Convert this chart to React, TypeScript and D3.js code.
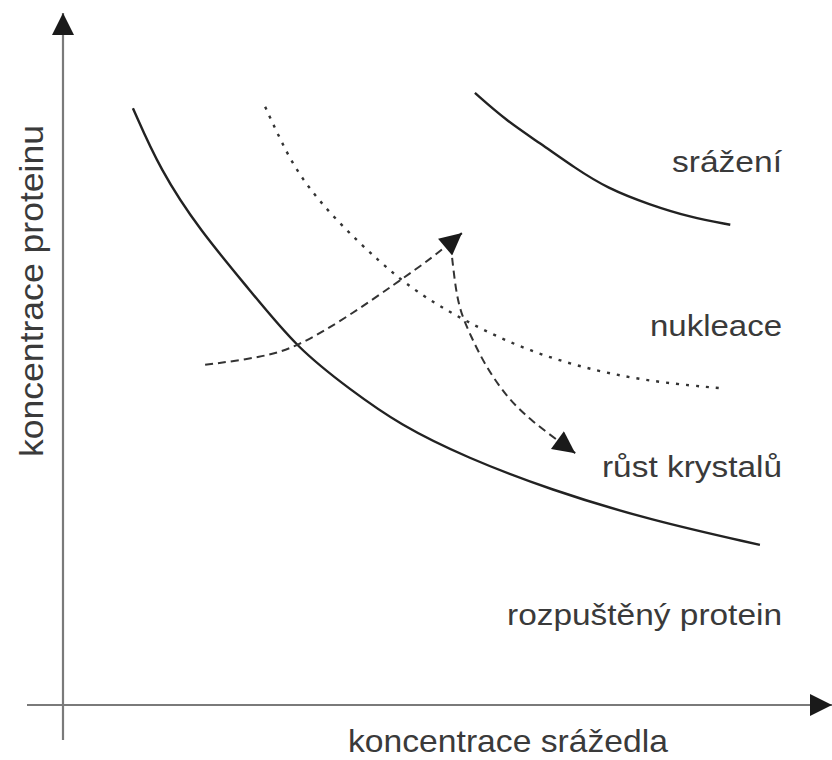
import React from "react";
import * as d3 from "d3";

const width = 832;
const height = 760;

// curves in diagram units: x = precipitant concentration, y = protein concentration (0..100)
const solubility: [number, number][] = [
  [9.2, 86.5], [12.8, 77.5], [18, 68.8], [24.6, 60.1], [30.8, 51.7], [37.8, 45.7],
  [44.3, 40.6], [53.2, 35.8], [64.1, 31.2], [77.2, 26.8], [91.7, 23.2],
];
const nucleation: [number, number][] = [
  [26.6, 86.7], [28.6, 81.9], [31.2, 76.4], [36.1, 70.0], [41.7, 64.2], [46.1, 60.1],
  [53.2, 55.4], [61.4, 51.2], [70.3, 48.3], [78.6, 46.7], [86.7, 45.9],
];
const precipitation: [number, number][] = [
  [54.2, 88.7], [58.2, 84.8], [62.8, 81.4], [67.4, 77.8], [71.6, 74.9],
  [77.2, 72.5], [82.5, 70.7], [87.8, 69.6],
];
const pathUp: [number, number][] = [
  [18.7, 49.3], [26.3, 50.4], [30.8, 51.9], [37.4, 56.2], [43.9, 61.2], [48.7, 64.9], [52.5, 68.4],
];
const pathDown: [number, number][] = [
  [51.2, 64.8], [51.6, 60.9], [52.2, 57.2], [53.6, 53.6], [55.5, 49.3],
  [58.2, 44.9], [61.4, 41.3], [67.4, 36.5],
];

const regionLabels = ["srážení", "nukleace", "růst krystalů", "rozpuštěný protein"];
const regionY = [77.3, 53.5, 33, 11.6];
const regionWidths = [110, 132, 180, 275];

const xTitle = "koncentrace srážedla";
const yTitle = "koncentrace proteinu";

const x = d3.scaleLinear().domain([0, 100]).range([63, 823]);
const y = d3.scaleLinear().domain([0, 100]).range([705, 15]);

// smooth the hand-read points
const curve = d3
  .line<[number, number]>()
  .x((d) => x(d[0]))
  .y((d) => y(d[1]))
  .curve(d3.curveBasis);

const font = "'Liberation Sans', Arial, sans-serif";
const ink = "#3a3a3a";

export default function App() {
  return (
    <div style={{ position: "absolute", left: 0, top: 0 }}>
      <svg width={width} height={height} style={{ display: "block", background: "#fff" }}>
        <defs>
          <marker id="head" viewBox="0 0 10 10" refX={10} refY={5} markerWidth={26} markerHeight={22}
            markerUnits="userSpaceOnUse" orient="auto">
            <path d="M0,0 L10,5 L0,10 Z" fill="#1a1a1a" />
          </marker>
          <marker id="axisHead" viewBox="0 0 10 10" refX={10} refY={5} markerWidth={22} markerHeight={22}
            markerUnits="userSpaceOnUse" orient="auto">
            <path d="M0,0 L10,5 L0,10 Z" fill="#1a1a1a" />
          </marker>
        </defs>

        {/* axes */}
        <line x1={x(0)} x2={x(0)} y1={740} y2={13} stroke="#7a7a7a" strokeWidth={2.2} markerEnd="url(#axisHead)" />
        <line x1={27} x2={832} y1={y(0)} y2={y(0)} stroke="#7a7a7a" strokeWidth={2.2} markerEnd="url(#axisHead)" />

        {/* region boundaries */}
        <path d={curve(solubility) ?? ""} fill="none" stroke="#222" strokeWidth={2.4} />
        <path d={curve(precipitation) ?? ""} fill="none" stroke="#222" strokeWidth={2.4} />
        <path d={curve(nucleation) ?? ""} fill="none" stroke="#333" strokeWidth={2.4} strokeDasharray="3,7" />

        {/* crystallisation path */}
        <path d={curve(pathUp) ?? ""} fill="none" stroke="#333" strokeWidth={2} strokeDasharray="8,5" markerEnd="url(#head)" />
        <path d={curve(pathDown) ?? ""} fill="none" stroke="#333" strokeWidth={2} strokeDasharray="8,5" markerEnd="url(#head)" />

        {/* region labels */}
        {regionLabels.map((t, i) => (
          <text key={t} x={782} y={y(regionY[i])} textAnchor="end" fontFamily={font} fontSize={29}
            fill={ink} textLength={regionWidths[i]} lengthAdjust="spacingAndGlyphs">
            {t}
          </text>
        ))}

        {/* axis titles */}
        <text x={508} y={752} textAnchor="middle" fontFamily={font} fontSize={32} fill={ink}
          textLength={320} lengthAdjust="spacingAndGlyphs">
          {xTitle}
        </text>
        <text transform={`translate(43,291) rotate(-90)`} textAnchor="middle" fontFamily={font} fontSize={33}
          fill={ink} textLength={332} lengthAdjust="spacingAndGlyphs">
          {yTitle}
        </text>
      </svg>
    </div>
  );
}
